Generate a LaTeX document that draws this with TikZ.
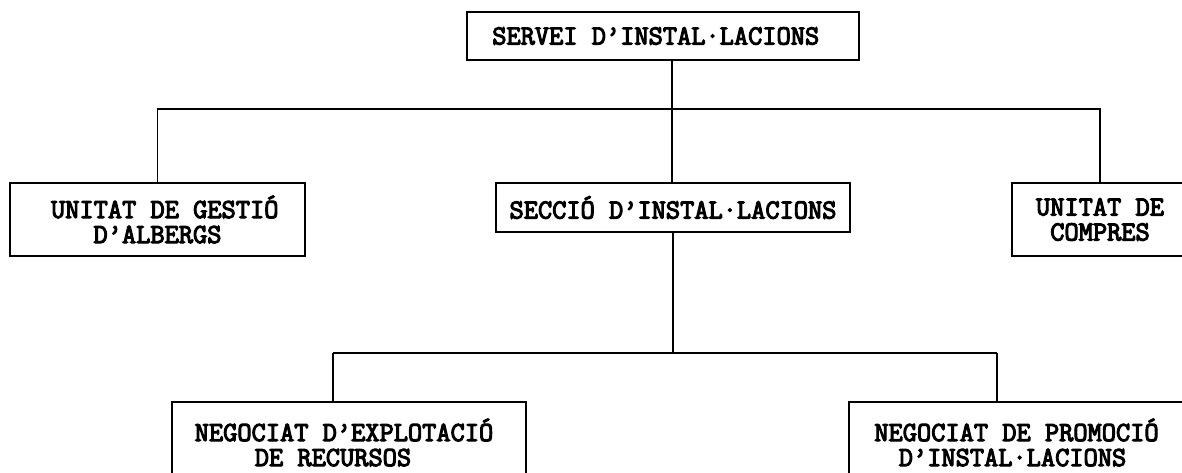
\documentclass[tikz,border=0pt]{standalone}
\usepackage{fontspec}
\newfontfamily\cour{Latin Modern Mono}[FakeBold=4]
\begin{document}
\begin{tikzpicture}[x=1pt,y=-1pt,
  box/.style={draw, line width=1.8pt, rectangle, inner sep=0pt, outer sep=0pt,
    align=center, font=\cour\fontsize{27.6}{25}\selectfont},
  conn/.style={line width=1.8pt}]
\clip (0,0) rectangle (1182,473);
\fill[white] (0,0) rectangle (1182,473);
% boxes
\node[box, minimum width=392pt, minimum height=48pt] (top) at (663,36)
  {SERVEI D’INSTAL·LACIONS\rule{14.5pt}{0pt}};
\node[box, minimum width=295pt, minimum height=73pt] (left) at (157.5,219.5)
  {\rule{14.5pt}{0pt}UNITAT DE GESTIÓ\\D’ALBERGS};
\node[box, minimum width=354pt, minimum height=49pt] (sec) at (673,207.5)
  {SECCIÓ D’INSTAL·LACIONS};
\node[box, minimum width=176pt, minimum height=73pt] (right) at (1100,219.5)
  {UNITAT DE\\COMPRES};
\node[box, minimum width=354pt, minimum height=81pt] (nl) at (349,442.5)
  {NEGOCIAT D’EXPLOTACIÓ\rule{10pt}{0pt}\\DE RECURSOS\rule{32pt}{0pt}};
\node[box, minimum width=335pt, minimum height=81pt] (nr) at (1016.5,442.5)
  {NEGOCIAT DE PROMOCIÓ\\D’INSTAL·LACIONS\rule{8pt}{0pt}};
% junctions
\coordinate (j1) at (672,109);
\coordinate (j2) at (673,353);
\coordinate (bl) at (333,353);
\coordinate (br) at (997,353);
% connectors
\draw[conn] (top.south -| j1) -- (j1);
\draw[conn] (left.north) |- (j1);
\draw[conn] (right.north) |- (j1);
\draw[conn] (j1) -- (sec.north -| j1);
\draw[conn] (sec.south) -- (j2);
\draw[conn] (bl) -- (br);
\draw[conn] (bl) -- (bl |- nl.north);
\draw[conn] (br) -- (br |- nr.north);
\end{tikzpicture}
\end{document}
